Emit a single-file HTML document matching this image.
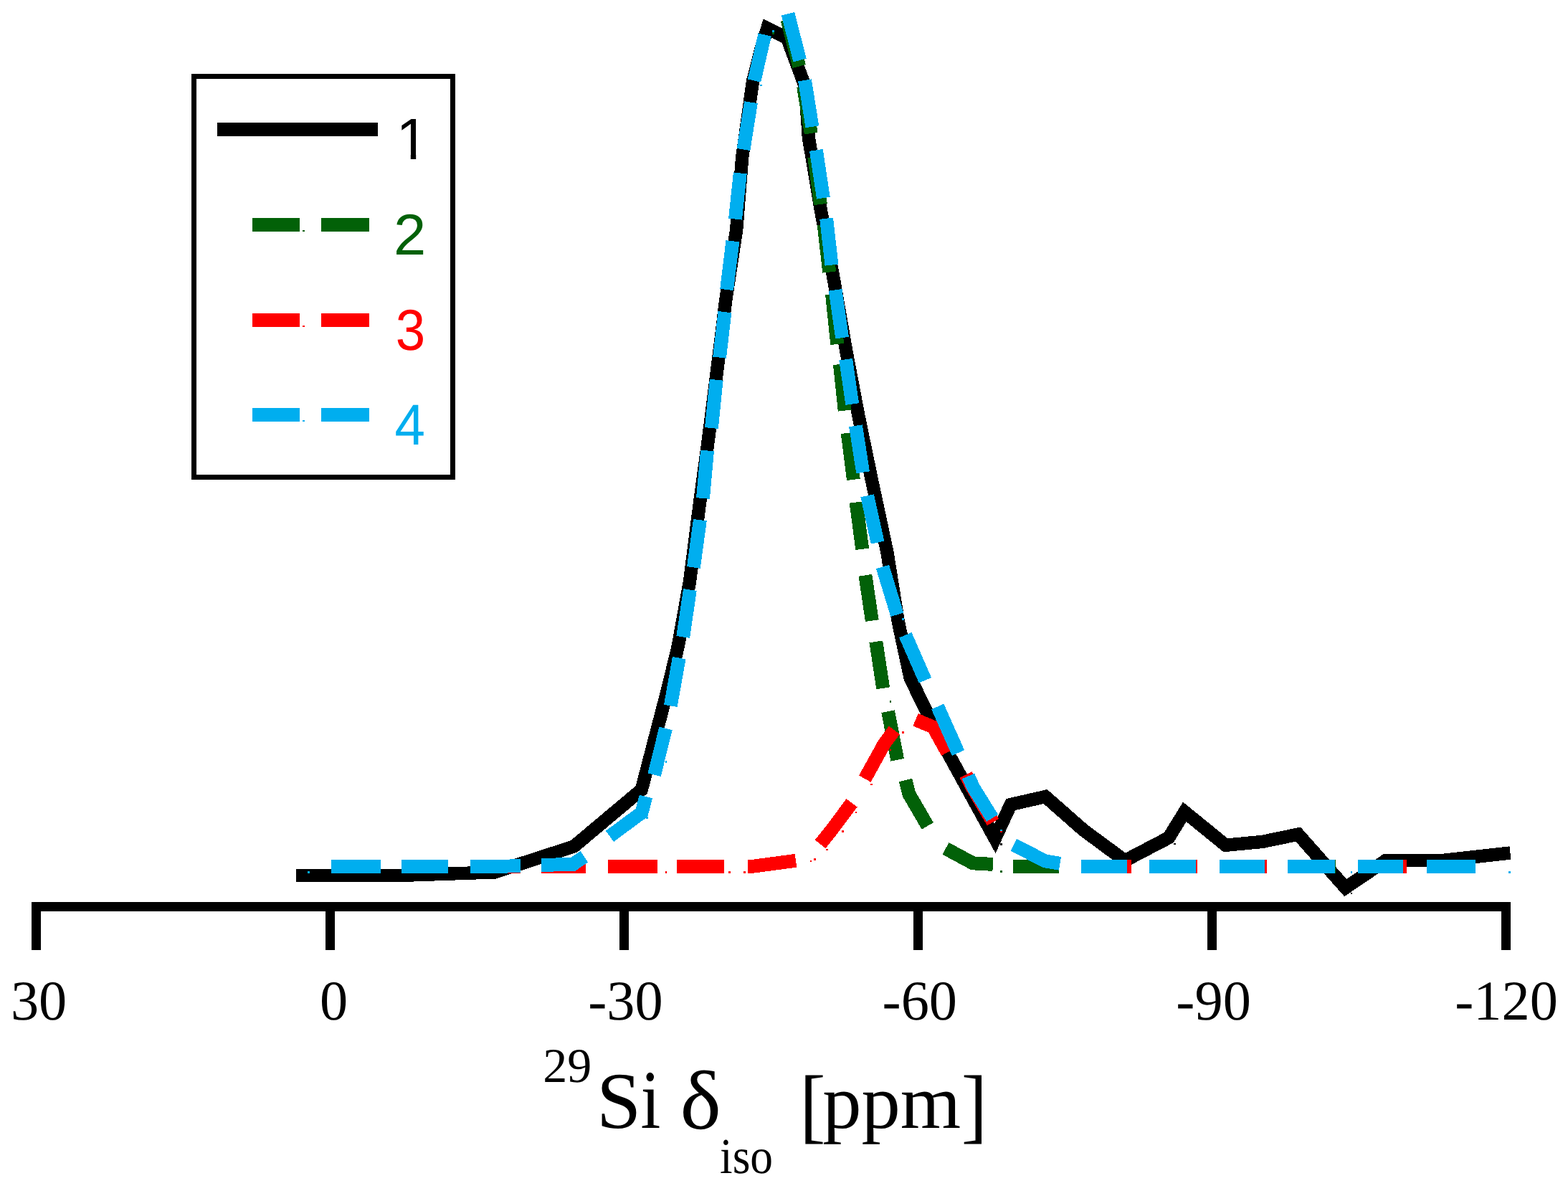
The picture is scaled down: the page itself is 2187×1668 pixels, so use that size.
<!DOCTYPE html>
<html lang="en">
<head>
<meta charset="utf-8">
<title>29Si NMR spectrum</title>
<style>
html,body{margin:0;padding:0;background:#fff;}
body{width:2187px;height:1668px;}
svg{display:block;}
</style>
</head>
<body>
<svg width="2187" height="1668" viewBox="0 0 2187 1668" shape-rendering="crispEdges">
<rect x="0" y="0" width="2187" height="1668" fill="#ffffff"/>
<rect x="270.5" y="106.5" width="361" height="559" fill="none" stroke="#000" stroke-width="7"/>
<rect x="303" y="171" width="224" height="19" fill="#000"/>
<rect x="351.9" y="303.8" width="66" height="19.2" fill="#026108"/>
<rect x="447.9" y="303.8" width="66.9" height="19.2" fill="#026108"/>
<rect x="422" y="320.6" width="3" height="2.4" fill="#026108"/>
<rect x="351.9" y="436.8" width="66" height="19.2" fill="#ff0000"/>
<rect x="447.9" y="436.8" width="66.9" height="19.2" fill="#ff0000"/>
<rect x="422" y="453.6" width="3" height="2.4" fill="#ff0000"/>
<rect x="351.9" y="568.8" width="66" height="19.2" fill="#00aeef"/>
<rect x="447.9" y="568.8" width="66.9" height="19.2" fill="#00aeef"/>
<rect x="422" y="585.6" width="3" height="2.4" fill="#00aeef"/>
<polyline points="413.2,1221.0 557.0,1221.0 690.0,1216.4 800.6,1180.4 894.8,1101.3 931.6,960.0 945.8,901.2 962.2,809.7 975.5,705.0 988.0,612.7 1000.4,514.4 1012.2,419.0 1027.2,320.2 1035.2,219.5 1050.0,113.4 1061.6,67.7 1070.3,39.3 1097.8,53.0 1123.0,120.7 1127.9,192.0 1144.8,292.6 1163.6,393.4 1180.4,490.3 1197.4,580.0 1216.7,673.4 1237.4,770.3 1252.9,867.4 1269.7,946.0 1308.6,1025.5 1387.8,1169.6 1409.7,1122.0 1458.1,1111.0 1511.2,1157.7 1568.9,1200.3 1630.1,1168.3 1652.3,1132.3 1709.5,1178.8 1761.3,1173.8 1810.6,1163.6 1876.6,1238.1 1933.0,1199.9 2013.0,1199.9 2106.5,1189.5" stroke="#000" stroke-width="18.40" fill="none" stroke-linejoin="miter" stroke-miterlimit="20" stroke-linecap="butt"/>
<polyline points="1098.0,27.5 1114.6,92.5" stroke="#026108" stroke-width="18.90" fill="none" stroke-linejoin="miter" stroke-miterlimit="10" stroke-linecap="butt"/>
<polyline points="1120.6,120.5 1131.2,186.0" stroke="#026108" stroke-width="18.90" fill="none" stroke-linejoin="miter" stroke-miterlimit="10" stroke-linecap="butt"/>
<polyline points="1135.8,219.0 1144.4,285.0" stroke="#026108" stroke-width="18.90" fill="none" stroke-linejoin="miter" stroke-miterlimit="10" stroke-linecap="butt"/>
<polyline points="1149.1,313.2 1156.7,379.5" stroke="#026108" stroke-width="18.90" fill="none" stroke-linejoin="miter" stroke-miterlimit="10" stroke-linecap="butt"/>
<polyline points="1160.5,410.5 1167.7,480.0" stroke="#026108" stroke-width="18.90" fill="none" stroke-linejoin="miter" stroke-miterlimit="10" stroke-linecap="butt"/>
<polyline points="1171.4,508.0 1178.2,572.6" stroke="#026108" stroke-width="18.90" fill="none" stroke-linejoin="miter" stroke-miterlimit="10" stroke-linecap="butt"/>
<polyline points="1182.2,603.9 1190.4,668.8" stroke="#026108" stroke-width="18.90" fill="none" stroke-linejoin="miter" stroke-miterlimit="10" stroke-linecap="butt"/>
<polyline points="1194.1,700.5 1202.7,765.8" stroke="#026108" stroke-width="18.90" fill="none" stroke-linejoin="miter" stroke-miterlimit="10" stroke-linecap="butt"/>
<polyline points="1206.9,802.3 1216.3,865.6" stroke="#026108" stroke-width="18.90" fill="none" stroke-linejoin="miter" stroke-miterlimit="10" stroke-linecap="butt"/>
<polyline points="1221.8,894.9 1231.7,959.8" stroke="#026108" stroke-width="18.90" fill="none" stroke-linejoin="miter" stroke-miterlimit="10" stroke-linecap="butt"/>
<polyline points="1238.6,992.2 1251.7,1059.8" stroke="#026108" stroke-width="18.90" fill="none" stroke-linejoin="miter" stroke-miterlimit="10" stroke-linecap="butt"/>
<polyline points="1263.1,1088.0 1267.8,1107.3 1293.8,1151.9" stroke="#026108" stroke-width="18.90" fill="none" stroke-linejoin="miter" stroke-miterlimit="10" stroke-linecap="butt"/>
<polyline points="1319.0,1183.4 1357.1,1203.9 1384.9,1205.4" stroke="#026108" stroke-width="18.90" fill="none" stroke-linejoin="miter" stroke-miterlimit="10" stroke-linecap="butt"/>
<polyline points="1413.0,1208.3 1477.0,1208.3" stroke="#026108" stroke-width="18.90" fill="none" stroke-linejoin="miter" stroke-miterlimit="10" stroke-linecap="butt"/>
<polyline points="1507.6,1208.3 1571.6,1208.3" stroke="#026108" stroke-width="18.90" fill="none" stroke-linejoin="miter" stroke-miterlimit="10" stroke-linecap="butt"/>
<polyline points="1605.0,1208.3 1669.5,1208.3" stroke="#026108" stroke-width="18.90" fill="none" stroke-linejoin="miter" stroke-miterlimit="10" stroke-linecap="butt"/>
<polyline points="1799.0,1208.3 1863.0,1208.3" stroke="#026108" stroke-width="18.90" fill="none" stroke-linejoin="miter" stroke-miterlimit="10" stroke-linecap="butt"/>
<polyline points="660.0,1208.3 726.3,1208.3" stroke="#ff0000" stroke-width="18.90" fill="none" stroke-linejoin="miter" stroke-miterlimit="10" stroke-linecap="butt"/>
<polyline points="755.1,1208.3 817.1,1208.3" stroke="#ff0000" stroke-width="18.90" fill="none" stroke-linejoin="miter" stroke-miterlimit="10" stroke-linecap="butt"/>
<polyline points="848.0,1208.3 916.9,1208.3" stroke="#ff0000" stroke-width="18.90" fill="none" stroke-linejoin="miter" stroke-miterlimit="10" stroke-linecap="butt"/>
<polyline points="943.9,1208.3 1010.0,1208.3" stroke="#ff0000" stroke-width="18.90" fill="none" stroke-linejoin="miter" stroke-miterlimit="10" stroke-linecap="butt"/>
<polyline points="1043.1,1208.3 1050.0,1208.3 1110.0,1200.3" stroke="#ff0000" stroke-width="18.90" fill="none" stroke-linejoin="miter" stroke-miterlimit="10" stroke-linecap="butt"/>
<polyline points="1144.1,1177.3 1161.6,1155.3 1188.0,1119.8" stroke="#ff0000" stroke-width="18.90" fill="none" stroke-linejoin="miter" stroke-miterlimit="10" stroke-linecap="butt"/>
<polyline points="1206.3,1086.1 1233.2,1037.5 1247.4,1018.3" stroke="#ff0000" stroke-width="18.90" fill="none" stroke-linejoin="miter" stroke-miterlimit="10" stroke-linecap="butt"/>
<polyline points="1277.1,1003.7 1301.7,1014.1 1321.3,1049.4" stroke="#ff0000" stroke-width="18.90" fill="none" stroke-linejoin="miter" stroke-miterlimit="10" stroke-linecap="butt"/>
<polyline points="1347.0,1080.4 1355.5,1096.9 1385.0,1146.6" stroke="#ff0000" stroke-width="18.90" fill="none" stroke-linejoin="miter" stroke-miterlimit="10" stroke-linecap="butt"/>
<polyline points="1513.0,1208.3 1578.0,1208.3" stroke="#ff0000" stroke-width="18.90" fill="none" stroke-linejoin="miter" stroke-miterlimit="10" stroke-linecap="butt"/>
<polyline points="1605.0,1208.3 1669.8,1208.3" stroke="#ff0000" stroke-width="18.90" fill="none" stroke-linejoin="miter" stroke-miterlimit="10" stroke-linecap="butt"/>
<polyline points="1702.0,1208.3 1767.1,1208.3" stroke="#ff0000" stroke-width="18.90" fill="none" stroke-linejoin="miter" stroke-miterlimit="10" stroke-linecap="butt"/>
<polyline points="1896.0,1208.3 1961.9,1208.3" stroke="#ff0000" stroke-width="18.90" fill="none" stroke-linejoin="miter" stroke-miterlimit="10" stroke-linecap="butt"/>
<polyline points="461.9,1208.3 531.0,1208.3" stroke="#00aeef" stroke-width="18.90" fill="none" stroke-linejoin="miter" stroke-miterlimit="10" stroke-linecap="butt"/>
<polyline points="560.0,1208.3 625.0,1208.3" stroke="#00aeef" stroke-width="18.90" fill="none" stroke-linejoin="miter" stroke-miterlimit="10" stroke-linecap="butt"/>
<polyline points="656.0,1208.3 700.0,1208.3 725.9,1207.5" stroke="#00aeef" stroke-width="18.90" fill="none" stroke-linejoin="miter" stroke-miterlimit="10" stroke-linecap="butt"/>
<polyline points="755.1,1206.6 799.5,1205.2 814.9,1194.8" stroke="#00aeef" stroke-width="18.90" fill="none" stroke-linejoin="miter" stroke-miterlimit="10" stroke-linecap="butt"/>
<polyline points="850.4,1166.3 895.0,1133.4 900.9,1111.0" stroke="#00aeef" stroke-width="18.90" fill="none" stroke-linejoin="miter" stroke-miterlimit="10" stroke-linecap="butt"/>
<polyline points="912.5,1080.7 928.6,1016.0" stroke="#00aeef" stroke-width="18.90" fill="none" stroke-linejoin="miter" stroke-miterlimit="10" stroke-linecap="butt"/>
<polyline points="935.3,984.4 947.2,917.6" stroke="#00aeef" stroke-width="18.90" fill="none" stroke-linejoin="miter" stroke-miterlimit="10" stroke-linecap="butt"/>
<polyline points="952.7,888.4 962.4,822.5" stroke="#00aeef" stroke-width="18.90" fill="none" stroke-linejoin="miter" stroke-miterlimit="10" stroke-linecap="butt"/>
<polyline points="967.4,791.4 976.4,725.2" stroke="#00aeef" stroke-width="18.90" fill="none" stroke-linejoin="miter" stroke-miterlimit="10" stroke-linecap="butt"/>
<polyline points="980.5,695.0 986.5,628.5" stroke="#00aeef" stroke-width="18.90" fill="none" stroke-linejoin="miter" stroke-miterlimit="10" stroke-linecap="butt"/>
<polyline points="992.4,597.0 999.2,529.7" stroke="#00aeef" stroke-width="18.90" fill="none" stroke-linejoin="miter" stroke-miterlimit="10" stroke-linecap="butt"/>
<polyline points="1003.6,498.6 1010.9,435.1" stroke="#00aeef" stroke-width="18.90" fill="none" stroke-linejoin="miter" stroke-miterlimit="10" stroke-linecap="butt"/>
<polyline points="1013.6,404.0 1021.9,336.3" stroke="#00aeef" stroke-width="18.90" fill="none" stroke-linejoin="miter" stroke-miterlimit="10" stroke-linecap="butt"/>
<polyline points="1025.5,305.6 1032.3,241.4" stroke="#00aeef" stroke-width="18.90" fill="none" stroke-linejoin="miter" stroke-miterlimit="10" stroke-linecap="butt"/>
<polyline points="1037.0,208.5 1047.5,142.7" stroke="#00aeef" stroke-width="18.90" fill="none" stroke-linejoin="miter" stroke-miterlimit="10" stroke-linecap="butt"/>
<polyline points="1052.0,112.5 1066.7,48.5" stroke="#00aeef" stroke-width="18.90" fill="none" stroke-linejoin="miter" stroke-miterlimit="10" stroke-linecap="butt"/>
<polyline points="1099.0,19.2 1115.6,84.0" stroke="#00aeef" stroke-width="18.90" fill="none" stroke-linejoin="miter" stroke-miterlimit="10" stroke-linecap="butt"/>
<polyline points="1122.5,111.9 1132.9,176.8" stroke="#00aeef" stroke-width="18.90" fill="none" stroke-linejoin="miter" stroke-miterlimit="10" stroke-linecap="butt"/>
<polyline points="1138.4,209.4 1148.4,276.2" stroke="#00aeef" stroke-width="18.90" fill="none" stroke-linejoin="miter" stroke-miterlimit="10" stroke-linecap="butt"/>
<polyline points="1152.6,304.7 1160.0,369.6" stroke="#00aeef" stroke-width="18.90" fill="none" stroke-linejoin="miter" stroke-miterlimit="10" stroke-linecap="butt"/>
<polyline points="1165.1,404.4 1174.6,471.1" stroke="#00aeef" stroke-width="18.90" fill="none" stroke-linejoin="miter" stroke-miterlimit="10" stroke-linecap="butt"/>
<polyline points="1179.7,501.3 1188.7,563.5" stroke="#00aeef" stroke-width="18.90" fill="none" stroke-linejoin="miter" stroke-miterlimit="10" stroke-linecap="butt"/>
<polyline points="1193.5,593.8 1203.6,658.8" stroke="#00aeef" stroke-width="18.90" fill="none" stroke-linejoin="miter" stroke-miterlimit="10" stroke-linecap="butt"/>
<polyline points="1209.6,691.3 1224.1,756.6" stroke="#00aeef" stroke-width="18.90" fill="none" stroke-linejoin="miter" stroke-miterlimit="10" stroke-linecap="butt"/>
<polyline points="1231.0,790.5 1251.3,857.3" stroke="#00aeef" stroke-width="18.90" fill="none" stroke-linejoin="miter" stroke-miterlimit="10" stroke-linecap="butt"/>
<polyline points="1262.8,885.7 1290.4,948.8" stroke="#00aeef" stroke-width="18.90" fill="none" stroke-linejoin="miter" stroke-miterlimit="10" stroke-linecap="butt"/>
<polyline points="1307.8,985.4 1336.5,1050.0" stroke="#00aeef" stroke-width="18.90" fill="none" stroke-linejoin="miter" stroke-miterlimit="10" stroke-linecap="butt"/>
<polyline points="1350.5,1082.4 1357.3,1097.8 1384.1,1141.0" stroke="#00aeef" stroke-width="18.90" fill="none" stroke-linejoin="miter" stroke-miterlimit="10" stroke-linecap="butt"/>
<polyline points="1413.8,1178.3 1458.0,1201.0 1478.5,1204.3" stroke="#00aeef" stroke-width="18.90" fill="none" stroke-linejoin="miter" stroke-miterlimit="10" stroke-linecap="butt"/>
<polyline points="1507.6,1208.3 1571.6,1208.3" stroke="#00aeef" stroke-width="18.90" fill="none" stroke-linejoin="miter" stroke-miterlimit="10" stroke-linecap="butt"/>
<polyline points="1603.1,1208.3 1668.0,1208.3" stroke="#00aeef" stroke-width="18.90" fill="none" stroke-linejoin="miter" stroke-miterlimit="10" stroke-linecap="butt"/>
<polyline points="1701.0,1208.3 1764.3,1208.3" stroke="#00aeef" stroke-width="18.90" fill="none" stroke-linejoin="miter" stroke-miterlimit="10" stroke-linecap="butt"/>
<polyline points="1796.1,1208.3 1862.1,1208.3" stroke="#00aeef" stroke-width="18.90" fill="none" stroke-linejoin="miter" stroke-miterlimit="10" stroke-linecap="butt"/>
<polyline points="1893.9,1208.3 1957.2,1208.3" stroke="#00aeef" stroke-width="18.90" fill="none" stroke-linejoin="miter" stroke-miterlimit="10" stroke-linecap="butt"/>
<polyline points="1989.7,1208.3 2058.0,1208.3" stroke="#00aeef" stroke-width="18.90" fill="none" stroke-linejoin="miter" stroke-miterlimit="10" stroke-linecap="butt"/>
<rect x="429.2" y="1214.9" width="2.6" height="2.6" fill="#00aeef"/>
<rect x="1076.9" y="42.3" width="2.6" height="2.6" fill="#00aeef"/>
<rect x="1076.9" y="45.1" width="2.6" height="2.6" fill="#026108"/>
<rect x="1059.9" y="117.6" width="2.6" height="2.6" fill="#00aeef"/>
<rect x="901.4" y="1139.1" width="2.6" height="2.6" fill="#00aeef"/>
<rect x="927.7" y="1061.2" width="2.6" height="2.6" fill="#00aeef"/>
<rect x="1258.4" y="862.1" width="2.6" height="2.6" fill="#00aeef"/>
<rect x="1883.7" y="1215.0" width="2.6" height="2.6" fill="#00aeef"/>
<rect x="2104.0" y="1215.0" width="2.6" height="2.6" fill="#00aeef"/>
<rect x="1395.3" y="1156.5" width="2.6" height="2.6" fill="#00aeef"/>
<rect x="1395.3" y="1158.7" width="2.6" height="2.6" fill="#ff0000"/>
<rect x="1395.3" y="1214.0" width="2.6" height="2.6" fill="#026108"/>
<rect x="1240.6" y="977.2" width="2.6" height="2.6" fill="#026108"/>
<rect x="927.7" y="1215.1" width="2.6" height="2.6" fill="#ff0000"/>
<rect x="1015.9" y="1215.1" width="2.6" height="2.6" fill="#ff0000"/>
<rect x="1037.4" y="1215.1" width="2.6" height="2.6" fill="#ff0000"/>
<rect x="1129.6" y="1199.7" width="2.6" height="2.6" fill="#ff0000"/>
<rect x="1135.1" y="1197.1" width="2.6" height="2.6" fill="#ff0000"/>
<rect x="1152.0" y="1183.7" width="2.6" height="2.6" fill="#ff0000"/>
<rect x="1174.2" y="1158.0" width="2.6" height="2.6" fill="#ff0000"/>
<rect x="1192.6" y="1131.6" width="2.6" height="2.6" fill="#ff0000"/>
<rect x="1214.0" y="1092.6" width="2.6" height="2.6" fill="#ff0000"/>
<rect x="1258.4" y="1020.1" width="2.6" height="2.6" fill="#ff0000"/>
<rect x="1240.7" y="1044.7" width="2.6" height="2.6" fill="#ff0000"/>
<rect x="1395.3" y="1176.0" width="2.6" height="2.6" fill="#000000"/>
<rect x="1883.7" y="1244.5" width="2.6" height="2.6" fill="#000000"/>
<rect x="1637.4" y="1175.7" width="2.6" height="2.6" fill="#000000"/>
<rect x="44" y="1258" width="2063" height="12.8" fill="#000"/>
<rect x="44.0" y="1258" width="12.8" height="66.7" fill="#000"/>
<rect x="454.1" y="1258" width="12.8" height="66.7" fill="#000"/>
<rect x="864.1" y="1258" width="12.8" height="66.7" fill="#000"/>
<rect x="1274.2" y="1258" width="12.8" height="66.7" fill="#000"/>
<rect x="1684.2" y="1258" width="12.8" height="66.7" fill="#000"/>
<rect x="2094.2" y="1258" width="12.8" height="66.7" fill="#000"/>
<g shape-rendering="auto" text-rendering="geometricPrecision">
<clipPath id="c1"><path d="M540 150H580.2V230H572.8V212H540Z"/></clipPath>
<g clip-path="url(#c1)"><text x="552.40" y="221.70" text-anchor="start" font-family="'Liberation Sans', Arial, Helvetica, sans-serif" font-size="81.40" fill="#000">1</text></g>
<text transform="translate(548.90,354.70) scale(1.0100,1.0000)" text-anchor="start" font-family="'Liberation Sans', Arial, Helvetica, sans-serif" font-size="80.60" fill="#026108">2</text>
<text transform="translate(551.80,488.20) scale(0.9250,1.0000)" text-anchor="start" font-family="'Liberation Sans', Arial, Helvetica, sans-serif" font-size="80.60" fill="#ff0000">3</text>
<text transform="translate(550.50,619.90) scale(0.9500,1.0000)" text-anchor="start" font-family="'Liberation Sans', Arial, Helvetica, sans-serif" font-size="80.30" fill="#00aeef">4</text>
<text x="54.10" y="1422.00" text-anchor="middle" font-family="'Liberation Serif', 'Times New Roman', Times, serif" font-size="78.40" fill="#000">30</text>
<text x="465.60" y="1422.00" text-anchor="middle" font-family="'Liberation Serif', 'Times New Roman', Times, serif" font-size="78.40" fill="#000">0</text>
<text x="872.40" y="1422.00" text-anchor="middle" font-family="'Liberation Serif', 'Times New Roman', Times, serif" font-size="78.40" fill="#000">-30</text>
<text x="1282.80" y="1422.00" text-anchor="middle" font-family="'Liberation Serif', 'Times New Roman', Times, serif" font-size="78.40" fill="#000">-60</text>
<text x="1692.60" y="1422.00" text-anchor="middle" font-family="'Liberation Serif', 'Times New Roman', Times, serif" font-size="78.40" fill="#000">-90</text>
<text x="2101.00" y="1422.00" text-anchor="middle" font-family="'Liberation Serif', 'Times New Roman', Times, serif" font-size="78.40" fill="#000">-120</text>
<text font-family="'Liberation Serif', 'Times New Roman', Times, serif" font-size="112" fill="#000"><tspan x="757.20" y="1508.50" font-size="68.00" textLength="68.00" lengthAdjust="spacingAndGlyphs">29</tspan><tspan x="832.00" y="1573.00" font-size="112.00" textLength="62.28" lengthAdjust="spacingAndGlyphs">S</tspan><tspan x="893.60" y="1573.00" font-size="116.50" textLength="27.89" lengthAdjust="spacingAndGlyphs">i</tspan> <tspan x="948.60" y="1573.50" font-size="116.50" textLength="57.38" lengthAdjust="spacingAndGlyphs">δ</tspan><tspan x="1004.00" y="1636.00" font-size="70.20" textLength="74.06" lengthAdjust="spacingAndGlyphs">iso</tspan> <tspan x="1115.20" y="1580.00" font-size="116.00" textLength="36.32" lengthAdjust="spacingAndGlyphs">[</tspan><tspan x="1147.20" y="1573.00" font-size="107.40" textLength="193.04" lengthAdjust="spacingAndGlyphs">ppm</tspan><tspan x="1340.80" y="1580.00" font-size="116.00" textLength="36.32" lengthAdjust="spacingAndGlyphs">]</tspan></text>
</g>
</svg>
</body>
</html>
